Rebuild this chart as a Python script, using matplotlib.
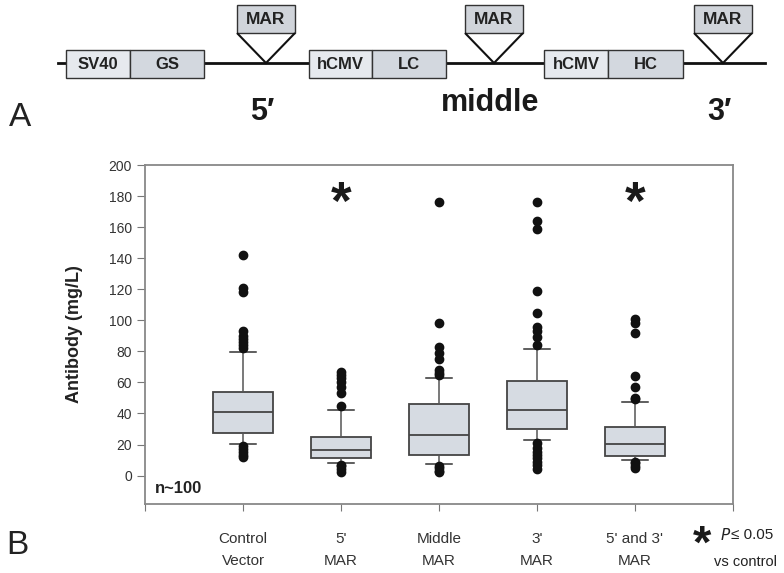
import numpy as np
import matplotlib.pyplot as plt
from matplotlib.patches import Rectangle, Polygon

plt.rcParams['font.family'] = ['Liberation Sans', 'DejaVu Sans']

# 抗体产量箱线图数据 (mg/L)
groups = ['Control\nVector', "5'\nMAR", 'Middle\nMAR', "3'\nMAR", "5' and 3'\nMAR"]
q1 = [27.3, 11.0, 13.2, 30.3, 12.7]
median = [40.9, 16.6, 26.0, 42.2, 20.2]
q3 = [53.8, 25.0, 46.3, 61.1, 31.0]
whisker_lo = [20.2, 8.0, 7.3, 22.8, 9.9]
whisker_hi = [79.4, 42.2, 62.8, 81.7, 47.5]
outliers = [
    [12, 13, 15, 17, 19, 82, 84, 86, 88, 90, 93, 118, 121, 142],
    [2, 4, 6, 7, 45, 53, 57, 60, 63, 65, 67],
    [2, 3, 5, 6, 65, 66, 68, 75, 79, 83, 98, 176],
    [4, 7, 9, 11, 13, 15, 18, 21, 84, 89, 93, 96, 105, 119, 159, 164, 176],
    [5, 6, 8, 9, 49, 50, 57, 64, 92, 98, 101],
]
significant = [False, True, False, False, True]

# 载体示意图 (像素坐标)
cassettes = [('SV40', 'GS', 66, 130, 204), ('hCMV', 'LC', 309, 372, 446), ('hCMV', 'HC', 544, 608, 683)]
mar_sites = [266, 494, 723]
mar_labels = ["5\u2032", 'middle', "3\u2032"]

fig = plt.figure(figsize=(7.84, 5.73), dpi=100)

# ---------- A: 示意图 ----------
top = fig.add_axes([0, 0, 1, 1])
top.set_xlim(0, 784)
top.set_ylim(573, 0)
top.axis('off')
top.plot([58, 765], [63, 63], color='#111111', lw=2, zorder=1)
for pro, gene, x0, xm, x1 in cassettes:
    top.add_patch(Rectangle((x0, 50), xm - x0, 28, fc='#e6e9ee', ec='#333333', lw=1, zorder=2))
    top.add_patch(Rectangle((xm, 50), x1 - xm, 28, fc='#d3d8df', ec='#333333', lw=1, zorder=2))
    top.text((x0 + xm) / 2, 64.5, pro, ha='center', va='center', fontsize=12, fontweight='bold',
             color='#222222', zorder=3)
    top.text((xm + x1) / 2, 64.5, gene, ha='center', va='center', fontsize=12, fontweight='bold',
             color='#222222', zorder=3)
for xc, lab in zip(mar_sites, mar_labels):
    top.add_patch(Rectangle((xc - 29, 5), 58, 28, fc='#d0d4da', ec='#333333', lw=1, zorder=2))
    top.add_patch(Polygon([(xc - 29, 33), (xc, 63), (xc + 29, 33)], closed=False, fill=False,
                          ec='#111111', lw=1.5, zorder=2))
    top.text(xc, 20, 'MAR', ha='center', va='center', fontsize=12.5, fontweight='bold',
             color='#222222', zorder=3)
    y = 103 if lab == 'middle' else 112
    top.text(xc - 4, y, lab, ha='center', va='center', fontsize=22, fontweight='bold', color='#1a1a1a')
top.text(20, 118, 'A', ha='center', va='center', fontsize=24, color='#222222')
top.text(17, 545, 'B', ha='center', va='center', fontsize=24, color='#222222')
top.text(702, 546, '*', ha='center', va='center', fontsize=34, fontweight='bold', color='#1a1a1a')
top.text(720, 535, r'$P$', ha='left', va='center', fontsize=11, color='#222222')
top.text(731, 535, '\u2264 0.05', ha='left', va='center', fontsize=11, color='#222222')
top.text(714, 562, 'vs control', ha='left', va='center', fontsize=10.5, color='#222222')

# ---------- B: 箱线图 ----------
ax = fig.add_axes([145 / 784, 1 - 504 / 573, (733 - 145) / 784, (504 - 165) / 573])
stats = []
for i in range(len(groups)):
    stats.append({'med': median[i], 'q1': q1[i], 'q3': q3[i],
                  'whislo': whisker_lo[i], 'whishi': whisker_hi[i], 'fliers': outliers[i]})
pos = np.arange(1, len(groups) + 1)
ax.bxp(stats, positions=pos, widths=0.61, patch_artist=True,
       boxprops=dict(facecolor='#d6dbe2', edgecolor='#444444', lw=1.3),
       medianprops=dict(color='#444444', lw=1.3),
       whiskerprops=dict(color='#555555', lw=1.1),
       capprops=dict(color='#333333', lw=1.1),
       capwidths=0.27,
       flierprops=dict(marker='o', markerfacecolor='#111111', markeredgecolor='#111111', markersize=6))
for p, sig in zip(pos, significant):
    if sig:
        ax.text(p, 174, '*', ha='center', va='center', fontsize=38, fontweight='bold', color='#1a1a1a')
ax.text(0.1, -8, 'n~100', ha='left', va='center', fontsize=12, fontweight='bold', color='#222222')

ax.set_xlim(0, 6)
ax.set_ylim(-18.3, 200)
ax.set_yticks(np.arange(0, 201, 20))
ax.set_xticks(np.arange(0, 7))
ax.set_xticklabels([''] + groups + [''])
ax.tick_params(axis='y', direction='out', length=6, colors='#777777', labelcolor='#333333', labelsize=10)
ax.tick_params(axis='x', direction='out', length=5, colors='#777777', labelcolor='#333333', labelsize=11, pad=15)
for lab in ax.get_xticklabels():
    lab.set_linespacing(1.75)
for s in ax.spines.values():
    s.set_color('#888888')
    s.set_linewidth(1.3)
ax.set_ylabel('Antibody (mg/L)', fontsize=13, fontweight='bold', color='#222222', labelpad=18)

fig.savefig('out.png', dpi=100)
